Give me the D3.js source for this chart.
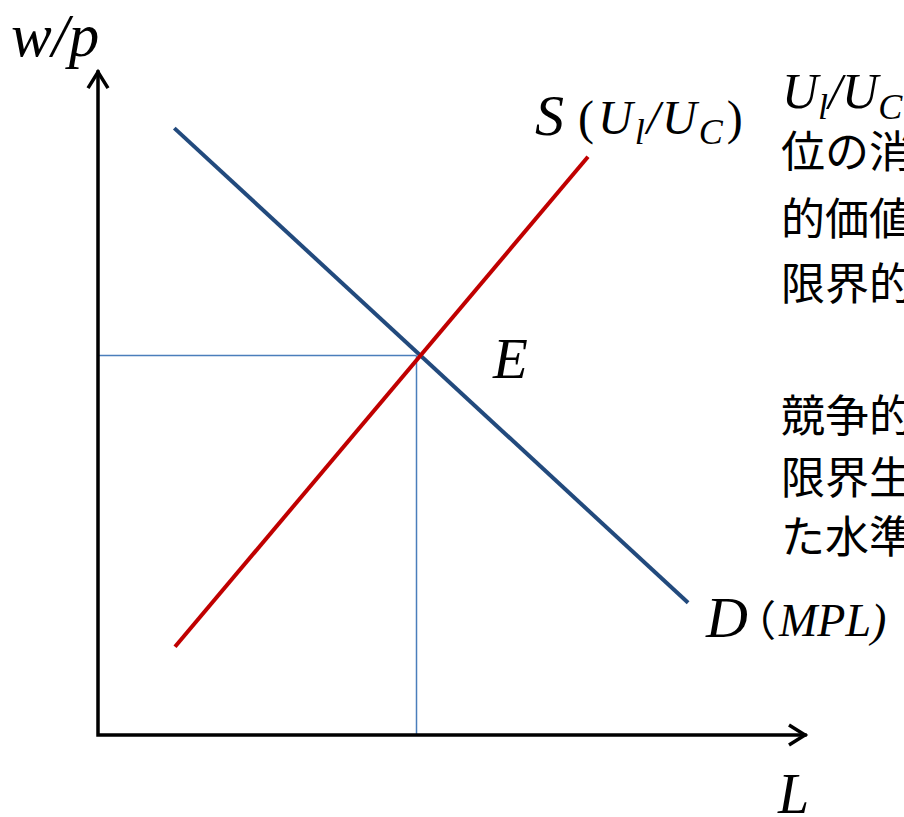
<!DOCTYPE html>
<html><head><meta charset="utf-8">
<script src="https://cdn.jsdelivr.net/npm/d3@7"></script>
<style>html,body{margin:0;padding:0;background:#fff;overflow:hidden}</style>
</head><body>
<svg id="c" width="904" height="817"></svg>
<script>
// Data (abstract units 0..100)
const demandX = [10.9, 84.3];
const demandY = [86.7, 18.9];
const supplyX = [11.0, 70.0];
const supplyY = [12.6, 82.6];
const axisMaxX = 101;
const axisMaxY = 94.7;
const noteBlock1 = ["位の消費から得られる", "的価値（余暇の限界", "限界的な価値）"];
const noteBlock2 = ["競争的な市場では", "限界生産力に等しくなっ", "た水準で決まる"];

const svg = d3.select("#c");
const x = d3.scaleLinear().domain([0, 100]).range([98, 798]);
const y = d3.scaleLinear().domain([0, 100]).range([735, 35]);

// intersection
const mD = (demandY[1]-demandY[0])/(demandX[1]-demandX[0]);
const mS = (supplyY[1]-supplyY[0])/(supplyX[1]-supplyX[0]);
const ex = (supplyY[0]-demandY[0] + mD*demandX[0] - mS*supplyX[0])/(mD-mS);
const ey = demandY[0] + mD*(ex-demandX[0]);

// guide lines
svg.append("line").attr("x1", x(0)).attr("y1", y(ey)).attr("x2", x(ex)-4).attr("y2", y(ey))
  .attr("stroke", "#4a7ebb").attr("stroke-width", 1.5);
svg.append("line").attr("x1", x(ex)-4).attr("y1", y(ey)).attr("x2", x(ex)-4).attr("y2", y(0))
  .attr("stroke", "#4a7ebb").attr("stroke-width", 1.5);

const line = d3.line().x(d => x(d[0])).y(d => y(d[1]));
svg.append("path").datum(demandX.map((v,i)=>[v, demandY[i]])).attr("d", line)
  .attr("fill","none").attr("stroke","#224a7d").attr("stroke-width",4);
svg.append("path").datum(supplyX.map((v,i)=>[v, supplyY[i]])).attr("d", line)
  .attr("fill","none").attr("stroke","#c00000").attr("stroke-width",4);

// axes
svg.append("path").attr("d", `M${x(0)},${y(axisMaxY)} L${x(0)},${y(0)} L${x(axisMaxX)},${y(0)}`)
  .attr("fill","none").attr("stroke","#000").attr("stroke-width",3.5).attr("stroke-linecap","square");
svg.append("path").attr("d", `M${x(0)-10},${y(axisMaxY)+16} L${x(0)},${y(axisMaxY)} L${x(0)+10},${y(axisMaxY)+16}`)
  .attr("fill","none").attr("stroke","#000").attr("stroke-width",3.5);
svg.append("path").attr("d", `M${x(axisMaxX)-16},${y(0)-10} L${x(axisMaxX)},${y(0)} L${x(axisMaxX)-16},${y(0)+10}`)
  .attr("fill","none").attr("stroke","#000").attr("stroke-width",3.5);

const serif = "'Liberation Serif','Times New Roman',serif";
function t(px, py, size){
  return svg.append("text").attr("x", px).attr("y", py).attr("font-family", serif)
    .attr("font-size", size).attr("fill","#000");
}
// w/p
t(11, 56, 61).attr("font-style","italic").text("w/p");
// L
t(778, 813, 56).attr("font-style","italic").text("L");
// E
t(493, 378, 57).attr("font-style","italic").text("E");
// S (Ul/UC)
t(535, 135, 58).attr("font-style","italic").text("S");
const s = t(578, 134, 48).attr("letter-spacing", 2);
s.append("tspan").text("(");
s.append("tspan").attr("font-style","italic").attr("dx",2).text("U");
s.append("tspan").attr("font-size",36).attr("font-style","italic").attr("dy",10).text("l");
s.append("tspan").attr("font-style","italic").attr("dy",-10).text("/U");
s.append("tspan").attr("font-size",36).attr("font-style","italic").attr("dy",10).text("C");
s.append("tspan").attr("dy",-10).attr("dx",2).text(")");
// D (MPL)
t(706, 637, 58).attr("font-style","italic").text("D");
svg.append("text").attr("x", 734).attr("y", 636).attr("font-family","'Noto Sans CJK JP',sans-serif")
  .attr("font-size", 42).attr("fill","#000").text("（");
t(779, 636, 46).attr("font-style","italic").text("MPL)");
// Right note
const u = t(782, 108, 50);
u.append("tspan").attr("font-style","italic").text("U");
u.append("tspan").attr("font-size",36).attr("font-style","italic").attr("dy",11).text("l");
u.append("tspan").attr("font-style","italic").attr("dy",-11).text("/U");
u.append("tspan").attr("font-size",36).attr("font-style","italic").attr("dy",11).text("C");

const jp = "'Noto Sans CJK JP','Noto Sans CJK SC',sans-serif";
const b1 = [168, 235, 300];
noteBlock1.forEach((s,i)=>svg.append("text").attr("x",781).attr("y",b1[i]).attr("font-family",jp)
  .attr("font-size",44).attr("font-weight",400).attr("fill","#000").text(s));
const b2 = [432, 494, 553];
noteBlock2.forEach((s,i)=>svg.append("text").attr("x",781).attr("y",b2[i]).attr("font-family",jp)
  .attr("font-size",44).attr("font-weight",400).attr("fill","#000").text(s));
</script>
</body></html>
